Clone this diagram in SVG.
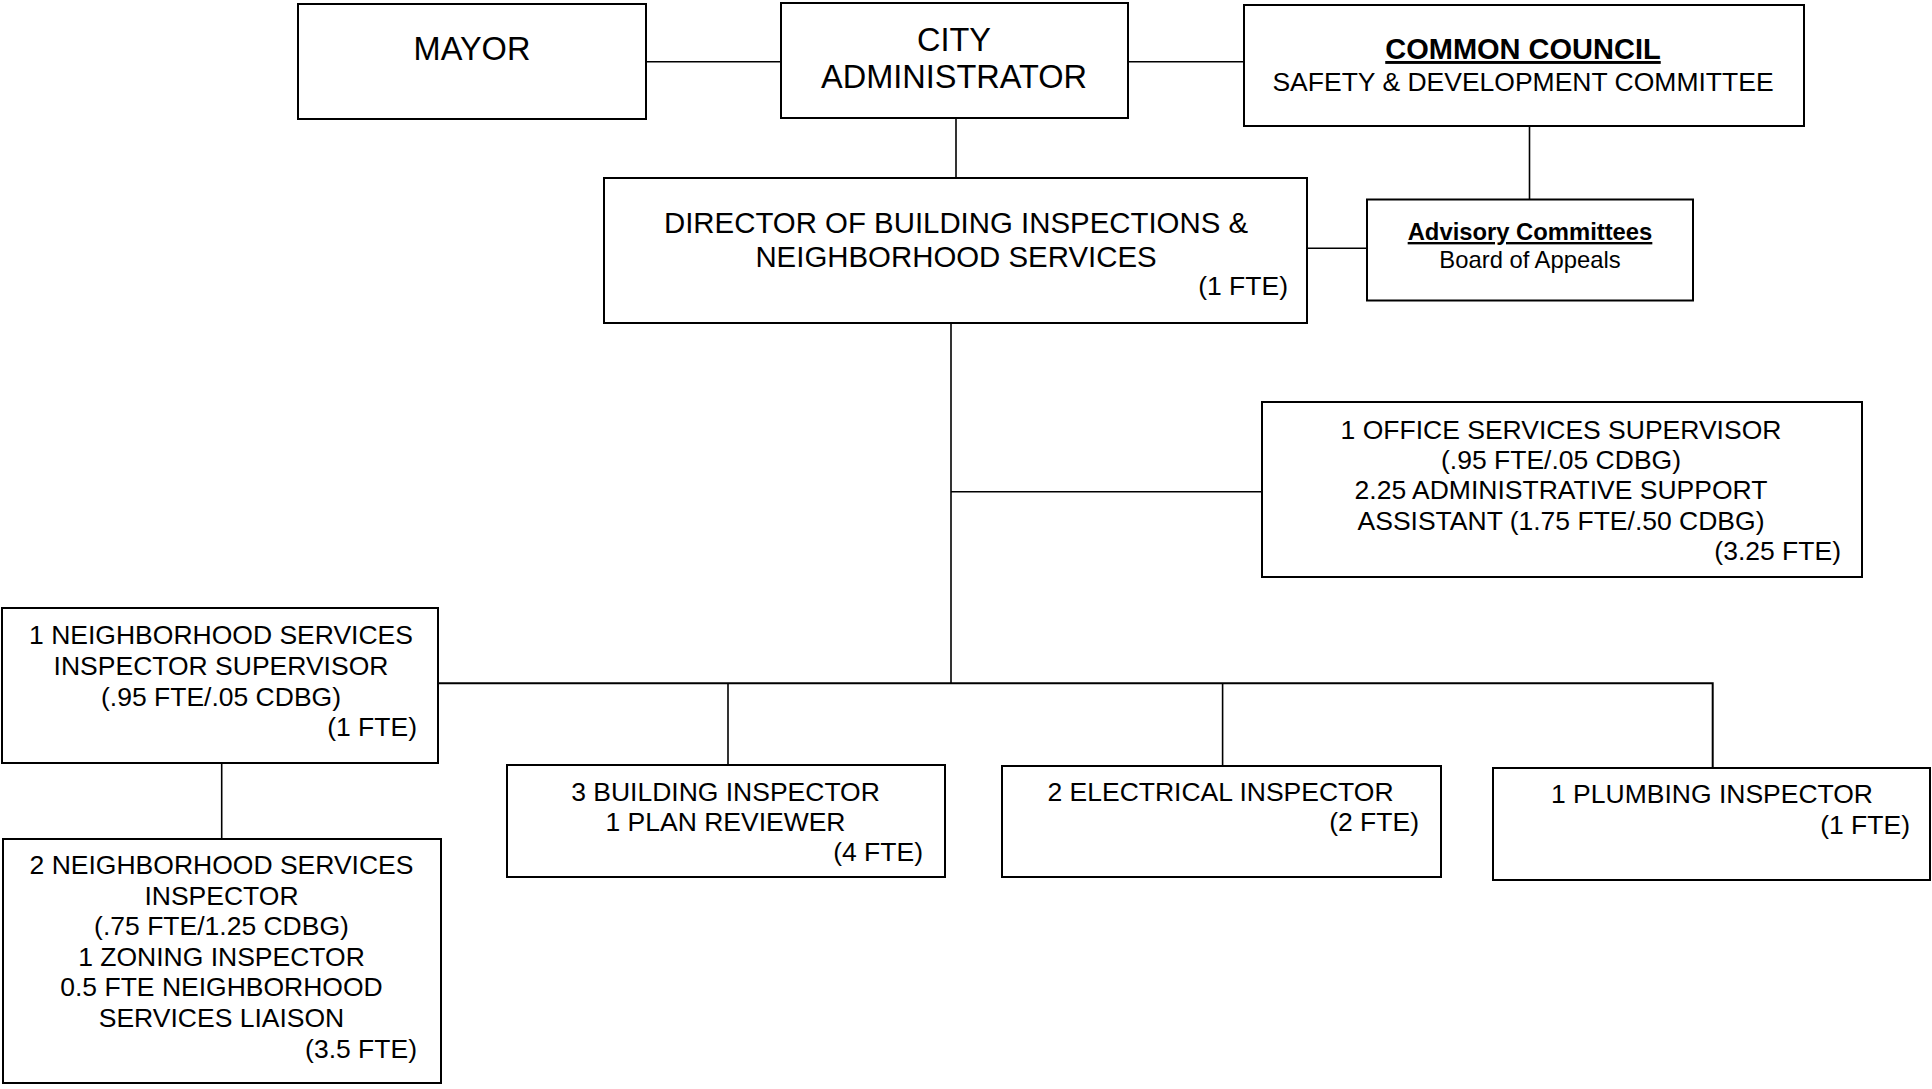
<svg xmlns="http://www.w3.org/2000/svg" width="1932" height="1089" viewBox="0 0 1932 1089">
<style>
.box{fill:#fff;stroke:#000;stroke-width:2}
.con{fill:none;stroke:#000;stroke-width:1.6}
text{font-family:"Liberation Sans",Arial,sans-serif;fill:#000}
.c{text-anchor:middle}
.r{text-anchor:end}
.t31{font-size:32.5px}
.t29{font-size:29.4px}
.t26{font-size:26.5px}
.t24{font-size:23.8px}
.b{font-weight:bold;text-decoration:underline}
</style>
<rect width="1932" height="1089" fill="#fff"/>
<g id="connectors">
<path class="con" d="M646,61.7 H781"/>
<path class="con" d="M1128,61.7 H1244"/>
<path class="con" d="M956,118 V178"/>
<path class="con" d="M1529.5,126 V199.5"/>
<path class="con" d="M1307,248.3 H1367"/>
<path class="con" d="M951,323 V683.3"/>
<path class="con" d="M951,491.7 H1262"/>
<path class="con" d="M438,683.3 H1712.7 V768" style="stroke-width:2"/>
<path class="con" d="M728,683.3 V765"/>
<path class="con" d="M1222.6,683.3 V766"/>
<path class="con" d="M221.7,763 V839"/>
</g>
<g id="mayor">
<rect class="box" x="298" y="4" width="348" height="115"/>
<text class="c t31" x="472" y="60">MAYOR</text>
</g>
<g id="city-administrator">
<rect class="box" x="781" y="3" width="347" height="115"/>
<text class="c t31" x="954" y="51">CITY</text>
<text class="c t31" x="954" y="88">ADMINISTRATOR</text>
</g>
<g id="common-council">
<rect class="box" x="1244" y="5" width="560" height="121"/>
<text class="c b" style="font-size:29px" x="1523" y="59">COMMON COUNCIL</text>
<text class="c t26" x="1523" y="91">SAFETY &amp; DEVELOPMENT COMMITTEE</text>
</g>
<g id="director">
<rect class="box" x="604" y="178" width="703" height="145"/>
<text class="c t29" x="956" y="233">DIRECTOR OF BUILDING INSPECTIONS &amp;</text>
<text class="c t29" x="956" y="266.5">NEIGHBORHOOD SERVICES</text>
<text class="r t26" x="1288" y="295">(1 FTE)</text>
</g>
<g id="advisory-committees">
<rect class="box" x="1367" y="199.5" width="326" height="101"/>
<text class="c t24 b" x="1530" y="240">Advisory Committees</text>
<text class="c t24" x="1530" y="268">Board of Appeals</text>
</g>
<g id="office-services">
<rect class="box" x="1262" y="402" width="600" height="175"/>
<text class="c t26" x="1561" y="439">1 OFFICE SERVICES SUPERVISOR</text>
<text class="c t26" x="1561" y="469">(.95 FTE/.05 CDBG)</text>
<text class="c t26" x="1561" y="499">2.25 ADMINISTRATIVE SUPPORT</text>
<text class="c t26" x="1561" y="529.5">ASSISTANT (1.75 FTE/.50 CDBG)</text>
<text class="r t26" x="1841" y="560">(3.25 FTE)</text>
</g>
<g id="ns-supervisor">
<rect class="box" x="2" y="608" width="436" height="155"/>
<text class="c t26" x="221" y="644">1 NEIGHBORHOOD SERVICES</text>
<text class="c t26" x="221" y="675">INSPECTOR SUPERVISOR</text>
<text class="c t26" x="221" y="706">(.95 FTE/.05 CDBG)</text>
<text class="r t26" x="417" y="735.5">(1 FTE)</text>
</g>
<g id="ns-inspectors">
<rect class="box" x="3" y="839" width="438" height="244"/>
<text class="c t26" x="221.5" y="874">2 NEIGHBORHOOD SERVICES</text>
<text class="c t26" x="221.5" y="904.6">INSPECTOR</text>
<text class="c t26" x="221.5" y="935.2">(.75 FTE/1.25 CDBG)</text>
<text class="c t26" x="221.5" y="965.8">1 ZONING INSPECTOR</text>
<text class="c t26" x="221.5" y="996.4">0.5 FTE NEIGHBORHOOD</text>
<text class="c t26" x="221.5" y="1027">SERVICES LIAISON</text>
<text class="r t26" x="417" y="1057.6">(3.5 FTE)</text>
</g>
<g id="building-inspector">
<rect class="box" x="507" y="765" width="438" height="112"/>
<text class="c t26" x="725.5" y="801">3 BUILDING INSPECTOR</text>
<text class="c t26" x="725.5" y="831">1 PLAN REVIEWER</text>
<text class="r t26" x="923" y="861">(4 FTE)</text>
</g>
<g id="electrical-inspector">
<rect class="box" x="1002" y="766" width="439" height="111"/>
<text class="c t26" x="1220.5" y="801">2 ELECTRICAL INSPECTOR</text>
<text class="r t26" x="1419" y="831">(2 FTE)</text>
</g>
<g id="plumbing-inspector">
<rect class="box" x="1493" y="768" width="437" height="112"/>
<text class="c t26" x="1712" y="803">1 PLUMBING INSPECTOR</text>
<text class="r t26" x="1910" y="834">(1 FTE)</text>
</g>
</svg>
